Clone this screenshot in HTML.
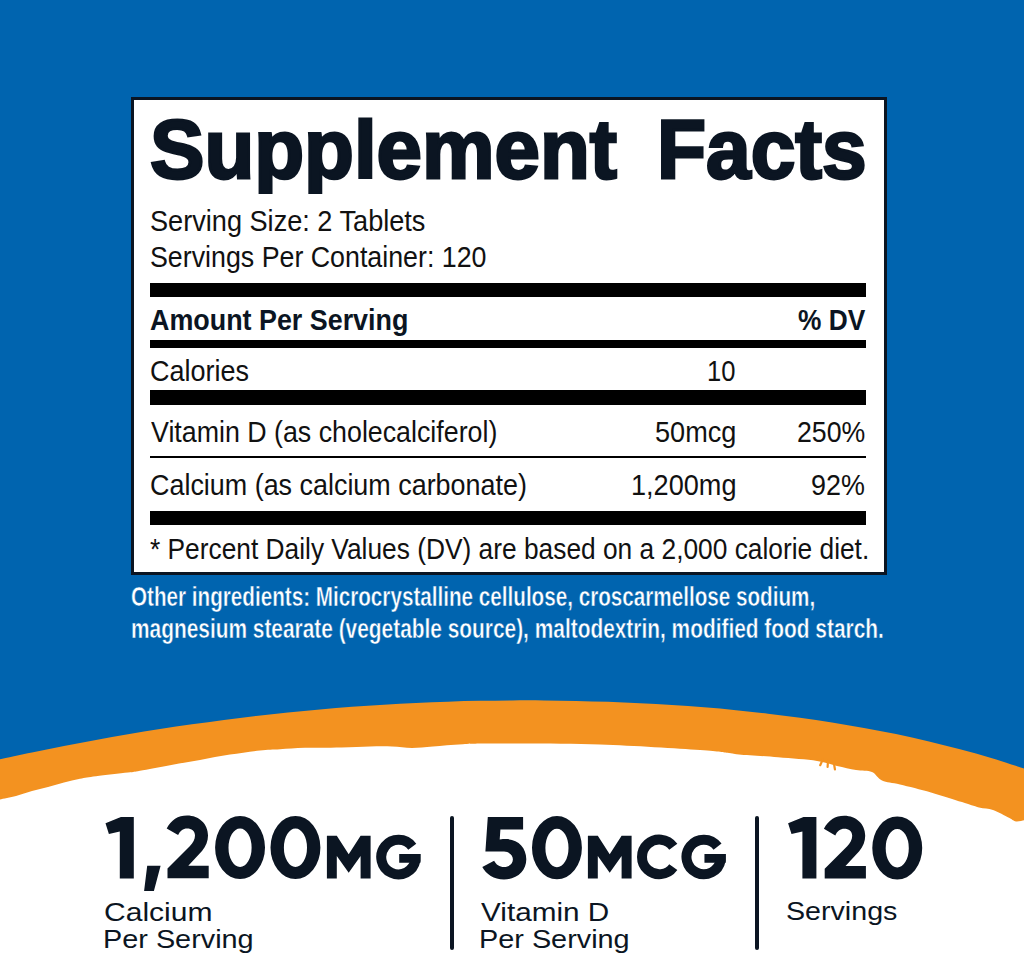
<!DOCTYPE html>
<html><head><meta charset='utf-8'><style>
html,body{margin:0;padding:0;}
body{width:1024px;height:955px;position:relative;overflow:hidden;background:#0064af;}
</style></head><body>
<svg width='1024' height='955' style='position:absolute;left:0;top:0'>
<path d='M0.0,759.18 C5.3,758.0 21.3,754.6 32.0,752.4 C42.7,750.2 53.3,748.0 64.0,745.97 C74.7,743.9 85.3,741.9 96.0,739.93 C106.7,738.0 117.3,736.1 128.0,734.28 C138.7,732.5 149.3,730.7 160.0,729.05 C170.7,727.4 181.3,725.8 192.0,724.25 C202.7,722.7 213.3,721.3 224.0,719.89 C234.7,718.5 245.3,717.2 256.0,715.96 C266.7,714.7 277.3,713.6 288.0,712.48 C298.7,711.4 309.3,710.4 320.0,709.44 C330.7,708.5 341.3,707.6 352.0,706.85 C362.7,706.1 373.3,705.3 384.0,704.69 C394.7,704.0 405.3,703.5 416.0,702.97 C426.7,702.5 437.3,702.0 448.0,701.68 C458.7,701.3 469.3,701.0 480.0,700.83 C490.7,700.6 501.3,700.5 512.0,700.41 C522.7,700.3 533.3,700.3 544.0,700.43 C554.7,700.5 565.3,700.7 576.0,700.89 C586.7,701.1 597.3,701.4 608.0,701.79 C618.7,702.2 629.3,702.6 640.0,703.17 C650.7,703.7 661.3,704.3 672.0,705.02 C682.7,705.7 693.3,706.5 704.0,707.37 C714.7,708.2 725.3,709.2 736.0,710.26 C746.7,711.3 757.3,712.5 768.0,713.71 C778.7,715.0 789.3,716.3 800.0,717.76 C810.7,719.2 821.3,720.8 832.0,722.48 C842.7,724.2 853.3,726.0 864.0,727.91 C874.7,729.8 885.3,731.9 896.0,734.12 C906.7,736.3 917.3,738.7 928.0,741.19 C938.7,743.7 949.3,746.4 960.0,749.2 C970.7,752.0 981.3,755.0 992.0,758.25 C1002.7,761.5 1018.7,766.8 1024.0,768.45 L1024,955 L0,955 Z' fill='#f39220'/>
<path d='M0,799.4 C2.7,798.8 10.7,797.4 16,796 C21.3,794.6 26.7,792.5 32,791 C37.3,789.5 42.7,788.4 48,787 C53.3,785.6 58.7,783.9 64,782.5 C69.3,781.1 74.7,779.8 80,778.75 C85.3,777.7 88.0,777.2 96,776.2 C104.0,775.2 120.7,773.5 128,772.6 C135.3,771.7 133.0,771.9 140,770.7 C147.0,769.5 160.0,767.0 170,765.2 C180.0,763.4 190.0,761.7 200,759.9 C210.0,758.1 220.0,756.2 230,754.6 C240.0,753.0 251.7,751.4 260,750.5 C268.3,749.6 272.5,749.8 280,749.3 C287.5,748.8 294.8,748.1 305,747.8 C315.2,747.5 330.7,747.8 341.5,747.6 C352.3,747.4 361.6,746.7 370,746.5 C378.4,746.3 385.0,746.2 392,746.5 C399.0,746.8 405.2,748.0 412,748.0 C418.8,748.0 424.5,747.1 433,746.5 C441.5,745.9 451.8,744.7 463,744.2 C474.2,743.7 477.2,743.6 500,743.6 C522.8,743.6 566.7,743.4 600,744.5 C633.3,745.6 678.5,748.6 700,750 C721.5,751.4 722.5,752.3 729,753 C735.5,753.7 730.8,753.7 739,754.4 C747.2,755.1 765.0,756.2 778,757.3 C791.0,758.4 807.2,759.4 817,760.9 C826.8,762.4 830.5,764.5 837,766 C843.5,767.5 850.2,769.0 856,770 C861.8,771.0 867.7,770.2 872,772 C876.3,773.8 877.3,778.4 882,780.5 C886.7,782.6 891.8,782.5 900,784.5 C908.2,786.5 920.7,789.5 931,792.4 C941.3,795.3 954.0,799.6 962,802.1 C970.0,804.6 973.8,806.2 979,807.5 C984.2,808.8 988.0,808.3 993,810 C998.0,811.7 1005.2,815.9 1009,817.8 C1012.8,819.7 1013.5,821.1 1016,821.5 C1018.5,821.9 1022.7,820.5 1024,820.3 L1024,955 L0,955 Z' fill='#fff'/>
<path d='M822.8,759.5 L820.2,765.2 M828,760.5 L827.6,767 M833.8,762.5 L834.9,769.3' stroke='#f39220' stroke-width='2.2' stroke-linecap='round' fill='none'/>
<path d='M133.80,816.90 L133.80,878.60 L119.80,878.60 L119.80,831.40 L108.90,834.00 L105.50,823.20 L120.90,816.90 Z M147.20,865.70 L160.60,865.70 L153.90,890.90 L144.10,890.90 Z M166.70,828.50 C171.00,820.00 178.00,815.50 187.10,815.50 C199.00,815.50 208.00,824.00 208.00,835.50 C208.00,841.00 206.00,846.00 202.00,851.00 L188.30,865.80 L208.70,865.80 L208.70,878.30 L167.50,878.30 L167.50,868.50 L190.00,846.00 C193.00,842.50 195.00,839.50 195.00,835.50 C195.00,831.00 191.50,828.50 187.10,828.50 C183.00,828.50 180.00,831.00 178.10,835.10 Z M215.10,847.50 A24.95,31.60 0 1 1 265.00,847.50 A24.95,31.60 0 1 1 215.10,847.50 Z M228.50,847.70 A11.55,19.20 0 1 0 251.60,847.70 A11.55,19.20 0 1 0 228.50,847.70 Z M270.50,847.50 A24.95,31.60 0 1 1 320.40,847.50 A24.95,31.60 0 1 1 270.50,847.50 Z M283.90,847.70 A11.55,19.20 0 1 0 307.00,847.70 A11.55,19.20 0 1 0 283.90,847.70 Z M326.90,878.50 L326.90,835.70 L336.80,835.70 L348.70,854.20 L360.60,835.70 L370.60,835.70 L370.60,878.50 L360.60,878.50 L360.60,856.10 L348.70,872.70 L336.80,855.90 L336.80,878.50 Z M487.80,817.10 L523.10,817.10 L523.10,829.60 L500.40,829.60 L499.70,839.60 C502.00,839.20 504.00,839.10 506.00,839.10 C518.00,839.10 526.30,847.50 526.30,859.30 C526.30,871.00 517.00,879.50 504.00,879.50 C494.00,879.50 486.00,874.00 482.30,867.00 L494.10,860.70 C496.00,864.50 499.50,867.00 504.00,867.00 C509.50,867.00 512.90,863.50 512.90,859.30 C512.90,855.00 509.00,851.60 504.00,851.60 L485.40,851.60 Z M532.00,847.70 A24.95,31.60 0 1 1 581.90,847.70 A24.95,31.60 0 1 1 532.00,847.70 Z M545.40,847.90 A11.55,19.20 0 1 0 568.50,847.90 A11.55,19.20 0 1 0 545.40,847.90 Z M587.90,878.50 L587.90,835.70 L597.80,835.70 L609.70,854.20 L621.60,835.70 L631.60,835.70 L631.60,878.50 L621.60,878.50 L621.60,856.10 L609.70,872.70 L597.80,855.90 L597.80,878.50 Z M399.20,854.10 L420.45,854.10 L420.45,862.80 L399.20,862.80 Z M704.45,854.00 L725.70,854.00 L725.70,862.70 L704.45,862.70 Z M816.40,816.90 L816.40,878.60 L802.40,878.60 L802.40,831.40 L791.50,834.00 L788.10,823.20 L803.50,816.90 Z M823.90,828.80 C828.20,820.30 835.20,815.80 844.30,815.80 C856.20,815.80 865.20,824.30 865.20,835.80 C865.20,841.30 863.20,846.30 859.20,851.30 L845.50,866.10 L865.90,866.10 L865.90,878.60 L824.70,878.60 L824.70,868.80 L847.20,846.30 C850.20,842.80 852.20,839.80 852.20,835.80 C852.20,831.30 848.70,828.80 844.30,828.80 C840.20,828.80 837.20,831.30 835.30,835.40 Z M872.30,848.00 A24.95,31.60 0 1 1 922.20,848.00 A24.95,31.60 0 1 1 872.30,848.00 Z M885.70,848.20 A11.55,19.20 0 1 0 908.80,848.20 A11.55,19.20 0 1 0 885.70,848.20 Z' fill='#0b1522' fill-rule='evenodd'/><path d='M412.28,846.72 A17.25,17.25 0 1 0 415.45,860.30 L415.45,854.10 M673.30,846.73 A17.30,17.30 0 1 0 673.30,867.07 M717.53,846.62 A17.25,17.25 0 1 0 720.70,860.20 L720.70,854.00' fill='none' stroke='#0b1522' stroke-width='10' stroke-linejoin='miter'/>
</svg>
<div style='position:absolute;left:131px;top:97px;width:750px;height:472px;border:3px solid #0b1522;background:#fff'></div>
<div style='position:absolute;left:150px;top:283px;width:716px;height:14px;background:#000'></div><div style='position:absolute;left:150px;top:340px;width:716px;height:8px;background:#000'></div><div style='position:absolute;left:150px;top:390px;width:716px;height:15px;background:#000'></div><div style='position:absolute;left:150px;top:456px;width:716px;height:2px;background:#000'></div><div style='position:absolute;left:150px;top:511px;width:716px;height:14px;background:#000'></div>
<div style='position:absolute;left:450.0px;top:816px;width:4px;height:134px;background:#0b1522;border-radius:2.0px'></div>
<div style='position:absolute;left:755.0px;top:816px;width:4px;height:134px;background:#0b1522;border-radius:2.0px'></div>
<div style='position:absolute;left:150.02px;top:108.20px;font-family:&quot;Liberation Sans&quot;,sans-serif;font-weight:700;font-size:83px;line-height:83px;color:#0b1522;white-space:nowrap;-webkit-text-stroke:2.8px #0b1522;transform:scaleX(0.9831);transform-origin:0 0;clip-path:inset(9.30px -50px calc(100% - 85.80px) -50px);'>Supplement</div><div style='position:absolute;left:657.13px;top:108.20px;font-family:&quot;Liberation Sans&quot;,sans-serif;font-weight:700;font-size:83px;line-height:83px;color:#0b1522;white-space:nowrap;-webkit-text-stroke:2.8px #0b1522;transform:scaleX(0.9668);transform-origin:0 0;clip-path:inset(9.30px -50px calc(100% - 85.80px) -50px);'>Facts</div><div style='position:absolute;left:150.08px;top:206.00px;font-family:&quot;Liberation Sans&quot;,sans-serif;font-weight:400;font-size:29.5px;line-height:29.5px;color:#111;white-space:nowrap;transform:scaleX(0.9195);transform-origin:0 0;'>Serving Size: 2 Tablets</div><div style='position:absolute;left:150.09px;top:242.00px;font-family:&quot;Liberation Sans&quot;,sans-serif;font-weight:400;font-size:29.5px;line-height:29.5px;color:#111;white-space:nowrap;transform:scaleX(0.9079);transform-origin:0 0;'>Servings Per Container: 120</div><div style='position:absolute;left:150.09px;top:305.00px;font-family:&quot;Liberation Sans&quot;,sans-serif;font-weight:700;font-size:29.5px;line-height:29.5px;color:#0b1522;white-space:nowrap;transform:scaleX(0.9110);transform-origin:0 0;'>Amount Per Serving</div><div style='position:absolute;left:798.11px;top:305.00px;font-family:&quot;Liberation Sans&quot;,sans-serif;font-weight:700;font-size:29.5px;line-height:29.5px;color:#0b1522;white-space:nowrap;transform:scaleX(0.8919);transform-origin:0 0;'>% DV</div><div style='position:absolute;left:150.08px;top:356.00px;font-family:&quot;Liberation Sans&quot;,sans-serif;font-weight:400;font-size:29.5px;line-height:29.5px;color:#111;white-space:nowrap;transform:scaleX(0.9151);transform-origin:0 0;'>Calories</div><div style='position:absolute;left:707.27px;top:356.00px;font-family:&quot;Liberation Sans&quot;,sans-serif;font-weight:400;font-size:29.5px;line-height:29.5px;color:#111;white-space:nowrap;transform:scaleX(0.8667);transform-origin:0 0;'>10</div><div style='position:absolute;left:151.00px;top:417.00px;font-family:&quot;Liberation Sans&quot;,sans-serif;font-weight:400;font-size:29.5px;line-height:29.5px;color:#111;white-space:nowrap;transform:scaleX(0.9079);transform-origin:0 0;'>Vitamin D (as cholecalciferol)</div><div style='position:absolute;left:655.08px;top:417.00px;font-family:&quot;Liberation Sans&quot;,sans-serif;font-weight:400;font-size:29.5px;line-height:29.5px;color:#111;white-space:nowrap;transform:scaleX(0.9186);transform-origin:0 0;'>50mcg</div><div style='position:absolute;left:797.09px;top:417.00px;font-family:&quot;Liberation Sans&quot;,sans-serif;font-weight:400;font-size:29.5px;line-height:29.5px;color:#111;white-space:nowrap;transform:scaleX(0.9054);transform-origin:0 0;'>250%</div><div style='position:absolute;left:150.09px;top:470.00px;font-family:&quot;Liberation Sans&quot;,sans-serif;font-weight:400;font-size:29.5px;line-height:29.5px;color:#111;white-space:nowrap;transform:scaleX(0.9122);transform-origin:0 0;'>Calcium (as calcium carbonate)</div><div style='position:absolute;left:631.16px;top:470.00px;font-family:&quot;Liberation Sans&quot;,sans-serif;font-weight:400;font-size:29.5px;line-height:29.5px;color:#111;white-space:nowrap;transform:scaleX(0.9189);transform-origin:0 0;'>1,200mg</div><div style='position:absolute;left:811.09px;top:470.00px;font-family:&quot;Liberation Sans&quot;,sans-serif;font-weight:400;font-size:29.5px;line-height:29.5px;color:#111;white-space:nowrap;transform:scaleX(0.9123);transform-origin:0 0;'>92%</div><div style='position:absolute;left:150.09px;top:535.00px;font-family:&quot;Liberation Sans&quot;,sans-serif;font-weight:400;font-size:29px;line-height:29px;color:#111;white-space:nowrap;transform:scaleX(0.9075);transform-origin:0 0;'>* Percent Daily Values (DV) are based on a 2,000 calorie diet.</div><div style='position:absolute;left:131.28px;top:582.30px;font-family:&quot;Liberation Sans&quot;,sans-serif;font-weight:700;font-size:28.5px;line-height:28.5px;color:#fff;white-space:nowrap;-webkit-text-stroke:0.5px #0064af;transform:scaleX(0.7248);transform-origin:0 0;'>Other ingredients: Microcrystalline cellulose, croscarmellose sodium,</div><div style='position:absolute;left:130.54px;top:614.30px;font-family:&quot;Liberation Sans&quot;,sans-serif;font-weight:700;font-size:28.5px;line-height:28.5px;color:#fff;white-space:nowrap;-webkit-text-stroke:0.5px #0064af;transform:scaleX(0.7324);transform-origin:0 0;'>magnesium stearate (vegetable source), maltodextrin, modified food starch.</div><div style='position:absolute;left:103.82px;top:899.70px;font-family:&quot;Liberation Sans&quot;,sans-serif;font-weight:400;font-size:25.5px;line-height:25.5px;color:#0b1522;white-space:nowrap;transform:scaleX(1.1778);transform-origin:0 0;'>Calcium</div><div style='position:absolute;left:102.74px;top:926.70px;font-family:&quot;Liberation Sans&quot;,sans-serif;font-weight:400;font-size:25.5px;line-height:25.5px;color:#0b1522;white-space:nowrap;transform:scaleX(1.1308);transform-origin:0 0;'>Per Serving</div><div style='position:absolute;left:481.00px;top:899.70px;font-family:&quot;Liberation Sans&quot;,sans-serif;font-weight:400;font-size:25.5px;line-height:25.5px;color:#0b1522;white-space:nowrap;transform:scaleX(1.1651);transform-origin:0 0;'>Vitamin D</div><div style='position:absolute;left:478.74px;top:926.70px;font-family:&quot;Liberation Sans&quot;,sans-serif;font-weight:400;font-size:25.5px;line-height:25.5px;color:#0b1522;white-space:nowrap;transform:scaleX(1.1308);transform-origin:0 0;'>Per Serving</div><div style='position:absolute;left:785.88px;top:898.70px;font-family:&quot;Liberation Sans&quot;,sans-serif;font-weight:400;font-size:25.5px;line-height:25.5px;color:#0b1522;white-space:nowrap;transform:scaleX(1.1224);transform-origin:0 0;'>Servings</div>
</body></html>
